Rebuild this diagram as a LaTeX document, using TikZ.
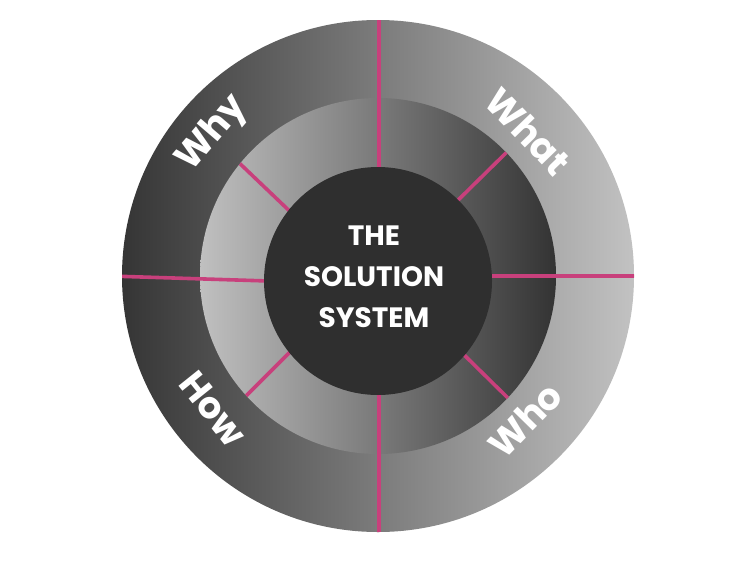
\documentclass[tikz,border=0pt]{standalone}
\usepackage{fontspec}
\newfontfamily\pop{Poppins}
\definecolor{outerL}{HTML}{353535}
\definecolor{outerR}{HTML}{C2C2C2}
\definecolor{midL}{HTML}{C0C0C0}
\definecolor{midR}{HTML}{333333}
\definecolor{innerC}{HTML}{2F2F2F}
\definecolor{magline}{HTML}{C8407C}
\tikzset{
  spoke/.style={draw=magline, line width=3.6pt},
  lbl/.style={text=white, font=\pop\bfseries\fontsize{37}{42}\selectfont, inner sep=0pt},
  ctr/.style={text=white, font=\pop\bfseries\fontsize{28}{41}\selectfont, align=center, inner sep=0pt}
}
\begin{document}
\begin{tikzpicture}[x=1pt,y=-1pt]
\useasboundingbox (0,0) rectangle (746,570);
\fill[white] (0,0) rectangle (746,570);
\coordinate (c) at (378,276);
\coordinate (ci) at (378,281);
% rings
\shade[left color=outerL, right color=outerR] (c) circle[radius=256];
\shade[left color=midL, right color=midR] (c) circle[radius=178];
% spokes
\begin{scope}
  \clip (c) circle[radius=256];
  \draw[spoke] (379,10) -- (379,200);
  \draw[spoke] (379,360) -- (379,545);
  \draw[spoke] (110,276) -- (300,282);
  \draw[spoke] (460,276) -- (645,276);
\end{scope}
\begin{scope}
  \clip (c) circle[radius=178];
  \draw[spoke] (233,157) -- (300,221);
  \draw[spoke] (446,212) -- (512,147);
  \draw[spoke] (300,342) -- (240,402);
  \draw[spoke] (452,343) -- (514,404);
\end{scope}
% centre
\fill[innerC] (ci) circle[radius=114];
% labels
\node[lbl, rotate=49.5] (why) at (213,134) {Why};
\node[lbl, rotate=-46] (what) at (528,131) {What};
\node[lbl, rotate=-51.3] (how) at (213,409) {How};
\node[lbl, rotate=45.6] (who) at (525,420) {Who};
\node[ctr] (title) at (374,277) {THE\\SOLUTION\\SYSTEM};
\end{tikzpicture}
\end{document}
